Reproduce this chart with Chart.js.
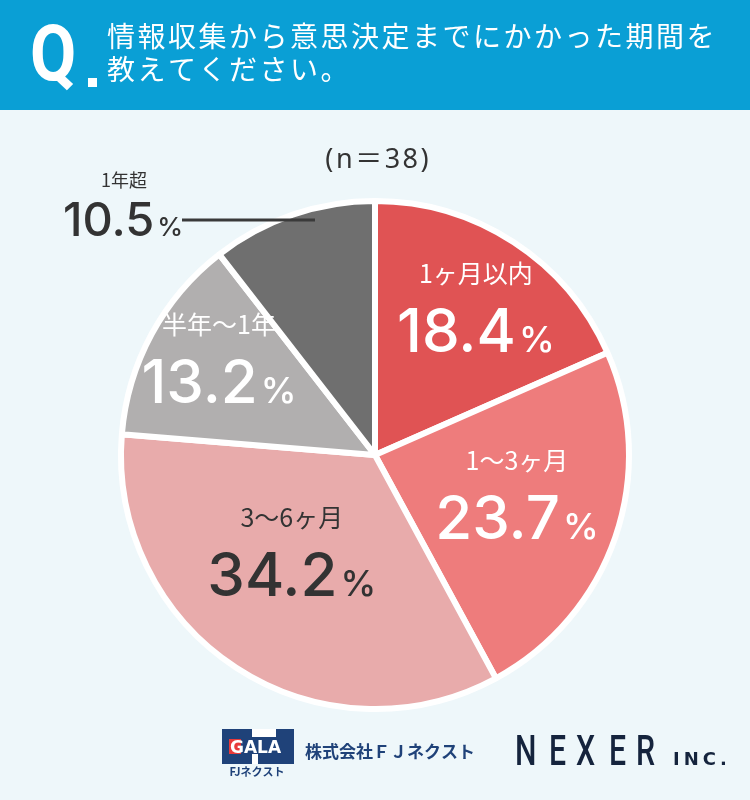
<!DOCTYPE html>
<html lang="ja">
<head>
  <meta charset="UTF-8" />
  <title>情報収集から意思決定までにかかった期間</title>
  <script src="https://cdn.jsdelivr.net/npm/chart.js"></script>
  <style>
    html, body { margin: 0; padding: 0; background: #eef7fa; }
    canvas { display: block; }
  </style>
</head>
<body>
  <canvas id="pieChart" width="750" height="800"></canvas>

  <script>
    // data
    const categories = ['1ヶ月以内', '1〜3ヶ月', '3〜6ヶ月', '半年〜1年', '1年超'];
    const shares = [18.4, 23.7, 34.2, 13.2, 10.5];
    const sampleLabel = '(n＝38)';
    const titleLines = ['情報収集から意思決定までにかかった期間を', '教えてください。'];

    const sliceColors = ['#e05354', '#ee7c7c', '#e8abab', '#b1afaf', '#6f6f6f'];
    const labelColors = ['#ffffff', '#ffffff', '#333333', '#ffffff', '#333333'];
    // label placement: [radius fraction, angle shift in degrees]
    const labelPlace = [[0.706, 1.1], [0.58, -3.4], [0.50, 7.8], [0.723, 3.4], [null, 0]];

    const JP = '"Noto Sans CJK JP", "Noto Sans", sans-serif';
    const NUM = 'Inter, Lato, "Noto Sans", sans-serif';

    function spaced(ctx, text, x, y, spacing) {
      // draws text left-aligned with extra spacing between glyphs
      for (const ch of text) {
        ctx.fillText(ch, x, y);
        x += ctx.measureText(ch).width + spacing;
      }
      return x;
    }

    function drawPct(ctx, value, cx, cy, bigSize, smallSize, color) {
      const num = value.toFixed(1);
      ctx.font = '500 ' + bigSize + 'px ' + NUM;
      const w1 = ctx.measureText(num).width;
      ctx.font = '500 ' + smallSize + 'px ' + NUM;
      const w2 = ctx.measureText('%').width;
      const gap = 3;
      const x = cx - (w1 + gap + w2) / 2;
      ctx.fillStyle = color;
      ctx.textAlign = 'left';
      ctx.textBaseline = 'alphabetic';
      ctx.font = '500 ' + bigSize + 'px ' + NUM;
      ctx.fillText(num, x, cy);
      ctx.font = '500 ' + smallSize + 'px ' + NUM;
      ctx.fillText('%', x + w1 + gap, cy);
    }

    const decor = {
      id: 'decor',
      beforeDraw(chart) {
        const ctx = chart.ctx;
        ctx.save();
        ctx.fillStyle = '#eef7fa';
        ctx.fillRect(0, 0, 750, 800);
        // header band
        ctx.fillStyle = '#0a9fd5';
        ctx.fillRect(0, 0, 750, 110);
        ctx.fillStyle = '#ffffff';
        ctx.textBaseline = 'alphabetic';
        ctx.textAlign = 'left';
        ctx.font = 'bold 78px Roboto, sans-serif';
        ctx.save();
        ctx.scale(0.86, 1);
        ctx.fillText('Q', 30 / 0.86, 80);
        ctx.restore();
        ctx.fillRect(88, 78, 9, 9);
        ctx.font = '28px ' + JP;
        spaced(ctx, titleLines[0], 107, 47, 2.5);
        spaced(ctx, titleLines[1], 107, 80, 2.5);
        // sample size
        ctx.fillStyle = '#333333';
        ctx.font = '27px "Noto Sans", ' + JP;
        let w = 0;
        for (const ch of sampleLabel) w += ctx.measureText(ch).width + 2.5;
        spaced(ctx, sampleLabel, 377 - (w - 2.5) / 2, 168, 2.5);
        ctx.restore();
      },
      afterDraw(chart) {
        const ctx = chart.ctx;
        const arcs = chart.getDatasetMeta(0).data;
        ctx.save();
        arcs.forEach((arc, i) => {
          const p = arc.getProps(['x', 'y', 'startAngle', 'endAngle', 'outerRadius'], true);
          if (labelPlace[i][0] === null) {
            // outside label with leader line
            ctx.strokeStyle = '#3a3a3a';
            ctx.lineWidth = 3;
            ctx.beginPath();
            ctx.moveTo(182, 220);
            ctx.lineTo(315, 220);
            ctx.stroke();
            ctx.fillStyle = '#333333';
            ctx.textAlign = 'center';
            ctx.font = '18px ' + JP;
            ctx.fillText(categories[i], 124, 187);
            drawPct(ctx, shares[i], 123, 236, 47, 26, '#333333');
            return;
          }
          const mid = (p.startAngle + p.endAngle) / 2 + labelPlace[i][1] * Math.PI / 180;
          const r = p.outerRadius * labelPlace[i][0];
          const cx = p.x + Math.cos(mid) * r;
          const cy = p.y + Math.sin(mid) * r;
          ctx.fillStyle = labelColors[i];
          ctx.textAlign = 'center';
          ctx.textBaseline = 'alphabetic';
          ctx.font = '25px ' + JP;
          ctx.fillText(categories[i], cx, cy - 24);
          drawPct(ctx, shares[i], cx, cy + 45, 60, 36, labelColors[i]);
        });

        // GALA logo
        ctx.fillStyle = '#1f4279';
        ctx.fillRect(222, 729, 72, 35);
        ctx.fillStyle = '#ffffff';
        ctx.fillRect(252, 729, 24, 8);
        ctx.fillRect(252, 754, 6, 10);
        ctx.fillStyle = '#e83a3a';
        ctx.fillRect(229, 739, 12, 15);
        ctx.fillStyle = '#ffffff';
        ctx.textAlign = 'left';
        ctx.font = 'bold 17px "DejaVu Sans", sans-serif';
        spaced(ctx, 'GALA', 230, 753, 0);
        ctx.fillStyle = '#1f4279';
        ctx.textAlign = 'center';
        ctx.font = 'bold 11px ' + JP;
        ctx.fillText('FJネクスト', 257, 776);
        ctx.textAlign = 'left';
        ctx.font = 'bold 17px ' + JP;
        ctx.fillText('株式会社ＦＪネクスト', 305, 758);
        // NEXER logo
        ctx.fillStyle = '#15243d';
        ctx.font = '500 42px Roboto, sans-serif';
        const nx = [515, 549, 576, 609, 636];
        'NEXER'.split('').forEach((ch, k) => {
          ctx.save();
          ctx.translate(nx[k], 765);
          ctx.scale(0.72, 1);
          ctx.fillText(ch, 0, 0);
          ctx.restore();
        });
        ctx.font = 'bold 18px "DejaVu Sans", sans-serif';
        spaced(ctx, 'INC.', 673, 765, 4);
        ctx.restore();
      }
    };

    new Chart(document.getElementById('pieChart'), {
      type: 'pie',
      data: {
        labels: categories,
        datasets: [{
          data: shares,
          backgroundColor: sliceColors,
          borderColor: '#ffffff',
          borderWidth: 6
        }]
      },
      options: {
        responsive: false,
        animation: false,
        layout: { padding: { left: 118, right: 118, top: 198, bottom: 88 } },
        plugins: {
          legend: { display: false },
          tooltip: { enabled: false }
        }
      },
      plugins: [decor]
    });
  </script>
</body>
</html>
